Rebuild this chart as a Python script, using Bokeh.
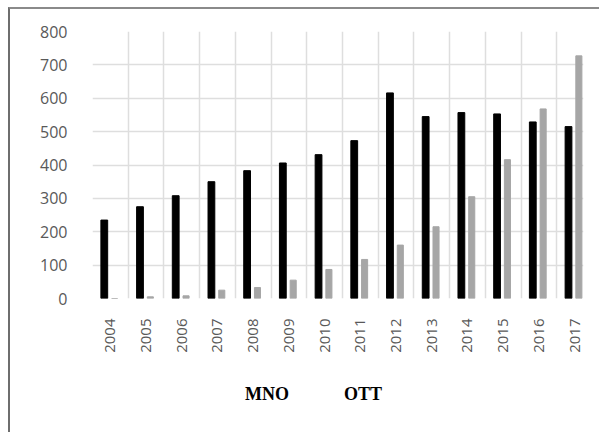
import math
from bokeh.plotting import figure
from bokeh.layouts import column
from bokeh.models import ColumnDataSource, Range1d, FixedTicker, Legend, LegendItem
from bokeh.embed import file_html
from bokeh.resources import INLINE

years = ["2004", "2005", "2006", "2007", "2008", "2009", "2010",
         "2011", "2012", "2013", "2014", "2015", "2016", "2017"]
mno = [235, 275, 308, 350, 383, 406, 431, 473, 616, 545, 557, 553, 529, 515]
ott = [0, 5, 8, 25, 33, 55, 87, 117, 160, 215, 305, 416, 568, 727]
y_ticks = [0, 100, 200, 300, 400, 500, 600, 700, 800]

idx = list(range(len(years)))
src = ColumnDataSource(dict(
    x_mno=[i + 0.33 for i in idx],
    x_ott=[i + 0.62 for i in idx],
    mno=mno, ott=ott,
))

p = figure(width=589, height=360, output_backend="svg", toolbar_location=None,
           x_range=Range1d(0, 13.75), y_range=Range1d(0, 800),
           min_border_left=82, min_border_right=16, min_border_top=22,
           min_border_bottom=71)
p.outline_line_color = None
p.background_fill_color = "white"
p.border_fill_color = "white"

p.vbar(x="x_mno", top="mno", width=0.19, source=src, color="black")
p.vbar(x="x_ott", top="ott", width=0.17, source=src, color="#a6a6a6")

p.xaxis.ticker = FixedTicker(ticks=[i + 0.5 for i in idx])
p.xaxis.major_label_overrides = {i + 0.5: y for i, y in zip(idx, years)}
p.xaxis.major_label_orientation = math.pi / 2
p.xaxis.axis_line_color = None
p.xaxis.major_tick_line_color = None
p.xaxis.minor_tick_line_color = None
p.xaxis.major_label_standoff = 14
p.xaxis.major_label_text_font = "Open Sans"
p.xaxis.major_label_text_font_size = "15px"
p.xaxis.major_label_text_color = "#595959"

p.yaxis.ticker = FixedTicker(ticks=y_ticks)
p.yaxis.axis_line_color = None
p.yaxis.major_tick_line_color = None
p.yaxis.minor_tick_line_color = None
p.yaxis.major_label_standoff = 19
p.yaxis.major_label_text_font = "Open Sans"
p.yaxis.major_label_text_font_size = "16px"
p.yaxis.major_label_text_color = "#595959"

p.xgrid.ticker = FixedTicker(ticks=list(range(14)))
p.xgrid.grid_line_color = "#dedede"
p.xgrid.grid_line_width = 1.5
p.ygrid.ticker = FixedTicker(ticks=y_ticks)
p.ygrid.grid_line_color = "#dedede"
p.ygrid.grid_line_width = 1.5

# legend strip: its renderers only supply the legend swatches (no data drawn)
leg_src = ColumnDataSource(dict(x_mno=[], x_ott=[], mno=[], ott=[]))
leg = figure(width=589, height=63, output_backend="svg", toolbar_location=None,
             x_range=Range1d(0, 1), y_range=Range1d(0, 1),
             x_axis_location=None, y_axis_location=None,
             min_border_left=82, min_border_right=16,
             min_border_top=0, min_border_bottom=0)
leg.outline_line_color = None
leg.border_fill_color = "white"
leg.background_fill_color = "white"
leg.grid.visible = False
lr1 = leg.vbar(x="x_mno", top="mno", width=0.19, source=leg_src, color="black")
lr2 = leg.vbar(x="x_ott", top="ott", width=0.17, source=leg_src, color="#a6a6a6")

legend = Legend(items=[LegendItem(label="MNO", renderers=[lr1]),
                       LegendItem(label="OTT", renderers=[lr2])],
                location=(130, 27), orientation="horizontal")
legend.border_line_color = None
legend.background_fill_alpha = 0
legend.padding = 0
legend.margin = 0
legend.spacing = 32
legend.glyph_width = 12
legend.glyph_height = 12
legend.label_standoff = 11
legend.label_text_font = "Liberation Serif"
legend.label_text_font_style = "bold"
legend.label_text_font_size = "18px"
legend.label_text_color = "black"
leg.add_layout(legend, "center")

layout = column(p, leg, spacing=0)
layout.margin = (7, 0, 0, 8)
layout.styles = {"border-left": "2px solid #6e6e6e", "border-top": "2px solid #8a8a8a"}
open("out.html", "w").write(file_html(layout, INLINE))
